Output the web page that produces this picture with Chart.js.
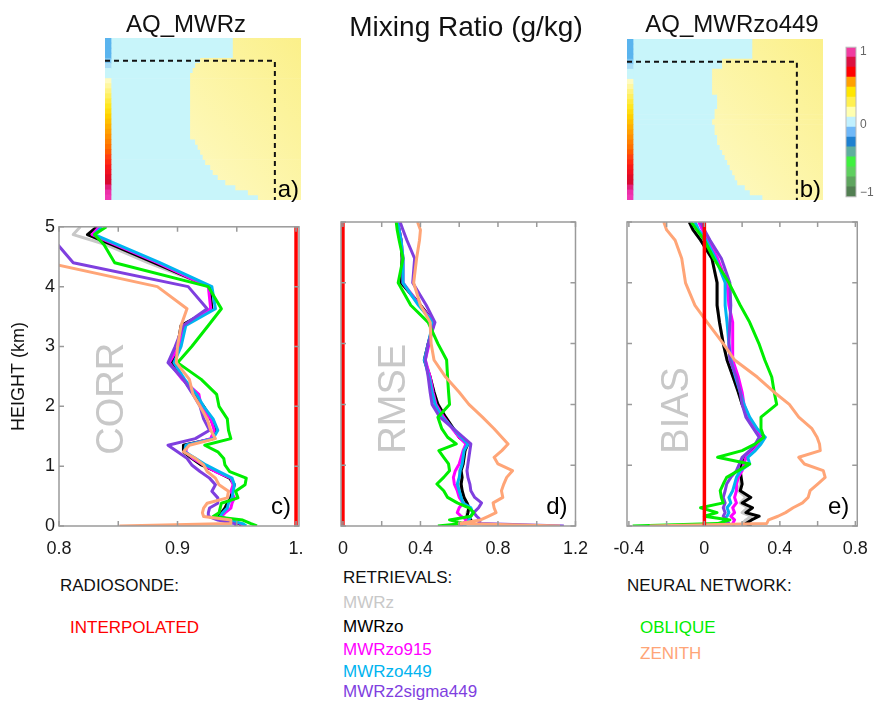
<!DOCTYPE html>
<html>
<head>
<meta charset="utf-8">
<script src="https://cdn.jsdelivr.net/npm/chart.js@4.4.1/dist/chart.umd.min.js"></script>
<style>
  body { margin: 0; background: #fff; }
  #fig { position: relative; width: 880px; height: 704px; overflow: hidden; background: #fff;
         font-family: 'Liberation Sans', Arial, sans-serif; }
  canvas { position: absolute; }
  .txt { position: absolute; white-space: nowrap; line-height: 1; color: #111; }
</style>
</head>
<body>
<div id="fig">
  <canvas id="mapA" width="210" height="180" style="left:100px;top:30px"></canvas>
  <canvas id="mapB" width="210" height="180" style="left:620px;top:30px"></canvas>
  <canvas id="cbar" width="40" height="172" style="left:840px;top:36px"></canvas>
  <canvas id="corr" width="320" height="345" style="left:0px;top:212px"></canvas>
  <canvas id="rmse" width="280" height="345" style="left:320px;top:212px"></canvas>
  <canvas id="bias" width="280" height="345" style="left:600px;top:212px"></canvas>

  <div class="txt" style="left:186px;top:12px;font-size:24px;transform:translateX(-50%)">AQ_MWRz</div>
  <div class="txt" style="left:466px;top:13px;font-size:28px;transform:translateX(-50%)">Mixing Ratio (g/kg)</div>
  <div class="txt" style="left:732px;top:12px;font-size:24px;transform:translateX(-50%)">AQ_MWRzo449</div>

  <div class="txt" style="left:60px;top:577px;font-size:17px">RADIOSONDE:</div>
  <div class="txt" style="left:70px;top:619px;font-size:17px;color:#ff0000">INTERPOLATED</div>
  <div class="txt" style="left:343px;top:569px;font-size:17px">RETRIEVALS:</div>
  <div class="txt" style="left:343px;top:594px;font-size:17px;color:#c8c8c8">MWRz</div>
  <div class="txt" style="left:343px;top:618px;font-size:17px;color:#000">MWRzo</div>
  <div class="txt" style="left:343px;top:641px;font-size:17px;color:#ff00ff">MWRzo915</div>
  <div class="txt" style="left:343px;top:663px;font-size:17px;color:#00b4f0">MWRzo449</div>
  <div class="txt" style="left:343px;top:683px;font-size:17px;color:#7f3fdf">MWRz2sigma449</div>
  <div class="txt" style="left:627px;top:577px;font-size:17px">NEURAL NETWORK:</div>
  <div class="txt" style="left:640px;top:619px;font-size:17px;color:#00ee00">OBLIQUE</div>
  <div class="txt" style="left:640px;top:645px;font-size:17px;color:#ffa577">ZENITH</div>
</div>
<script>
// heights (km) shared by all profiles
const H = [0, 0.04, 0.1, 0.16, 0.22, 0.3, 0.38, 0.47, 0.58, 0.69, 0.8, 0.91, 1.02, 1.13, 1.24, 1.35,
  1.46, 1.6, 1.79, 2.0, 2.2, 2.45, 2.73, 3.0, 3.35, 3.63, 4.0, 4.4, 4.7, 4.87, 5.0];
const interpH = [0, 5];

// CORR
const corrInterp = [1, 1];
const corrMWRz = [0.955,0.952,0.94,0.935,0.937,0.94,0.942,0.945,0.946,0.947,0.944,0.933,0.921,0.913,0.906,0.906,0.93,0.932,0.928,0.922,0.915,0.905,0.896,0.90,0.903,0.929,0.927,0.875,0.84,0.812,0.818];
const corrMWRzo = [0.955,0.952,0.94,0.935,0.937,0.94,0.942,0.945,0.946,0.948,0.944,0.933,0.92,0.912,0.905,0.905,0.93,0.932,0.928,0.922,0.914,0.905,0.895,0.90,0.903,0.929,0.927,0.88,0.845,0.824,0.832];
const corrMWRzo915 = [0.956,0.953,0.944,0.937,0.94,0.945,0.946,0.948,0.945,0.947,0.945,0.932,0.922,0.913,0.907,0.908,0.928,0.931,0.928,0.92,0.918,0.904,0.893,0.901,0.905,0.928,0.926,0.883,0.848,0.828,0.834];
const corrMWRzo449 = [0.958,0.955,0.942,0.936,0.938,0.942,0.943,0.946,0.947,0.948,0.946,0.935,0.924,0.915,0.906,0.907,0.93,0.934,0.93,0.922,0.916,0.906,0.897,0.903,0.907,0.932,0.929,0.885,0.85,0.83,0.836];
const corrMWRz2sigma449 = [0.95,0.948,0.934,0.926,0.926,0.927,0.934,0.934,0.929,0.932,0.927,0.919,0.912,0.908,0.90,0.892,0.915,0.927,0.922,0.919,0.913,0.905,0.892,0.898,0.905,0.925,0.909,0.812,0.799,0.79,0.785];
const corrOblique = [0.967,0.962,0.955,0.93,0.935,0.936,0.937,0.951,0.949,0.957,0.958,0.944,0.94,0.939,0.934,0.923,0.945,0.943,0.942,0.935,0.933,0.92,0.90,0.912,0.926,0.937,0.926,0.847,0.838,0.83,0.84];
const corrZenith = [0.851,0.945,0.945,0.922,0.921,0.922,0.925,0.942,0.943,0.935,0.932,0.925,0.922,0.915,0.905,0.91,0.932,0.928,0.925,0.919,0.913,0.91,0.899,0.90,0.903,0.908,0.883,0.79,0.77,0.76,0.75];

// RMSE
const rmseInterp = [0, 0];
const rmseMWRz = [0.60,0.62,0.66,0.64,0.64,0.65,0.64,0.62,0.615,0.60,0.61,0.60,0.62,0.625,0.63,0.64,0.60,0.57,0.53,0.49,0.47,0.45,0.42,0.44,0.47,0.40,0.31,0.31,0.30,0.29,0.28];
const rmseMWRzo = [0.60,0.62,0.66,0.64,0.645,0.65,0.64,0.625,0.615,0.61,0.615,0.61,0.62,0.625,0.63,0.645,0.60,0.57,0.53,0.49,0.47,0.45,0.42,0.44,0.47,0.40,0.30,0.305,0.30,0.29,0.28];
const rmseMWRzo915 = [0.60,0.62,0.64,0.61,0.59,0.60,0.62,0.60,0.59,0.575,0.57,0.58,0.60,0.61,0.62,0.635,0.60,0.565,0.52,0.48,0.465,0.45,0.425,0.445,0.47,0.395,0.31,0.31,0.30,0.29,0.28];
const rmseMWRzo449 = [0.62,0.64,0.65,0.66,0.67,0.66,0.62,0.61,0.60,0.59,0.60,0.605,0.615,0.62,0.625,0.645,0.61,0.57,0.51,0.475,0.46,0.445,0.42,0.44,0.465,0.39,0.31,0.31,0.30,0.29,0.285];
const rmseMWRz2sigma449 = [1.14,0.70,0.71,0.69,0.675,0.70,0.715,0.68,0.66,0.655,0.645,0.64,0.645,0.65,0.655,0.66,0.62,0.57,0.50,0.46,0.45,0.44,0.425,0.44,0.475,0.43,0.36,0.37,0.33,0.31,0.295];
const rmseOblique = [0.49,0.62,0.55,0.66,0.675,0.65,0.59,0.54,0.52,0.485,0.52,0.55,0.545,0.52,0.495,0.585,0.54,0.51,0.49,0.55,0.545,0.54,0.535,0.49,0.44,0.35,0.285,0.31,0.29,0.28,0.275];
const rmseZenith = [1.12,0.60,0.71,0.75,0.79,0.78,0.775,0.825,0.818,0.83,0.845,0.875,0.80,0.78,0.82,0.852,0.82,0.78,0.72,0.65,0.60,0.53,0.47,0.455,0.45,0.40,0.365,0.38,0.395,0.40,0.385];

// BIAS
const biasInterp = [0, 0];
const biasMWRz = [0.22,0.2,0.22,0.25,0.2,0.23,0.19,0.22,0.18,0.19,0.19,0.19,0.2,0.22,0.25,0.28,0.305,0.27,0.23,0.2,0.18,0.152,0.12,0.10,0.08,0.07,0.07,0.04,-0.02,-0.06,-0.08];
const biasMWRzo = [0.25,0.22,0.25,0.29,0.22,0.255,0.20,0.246,0.19,0.20,0.195,0.19,0.20,0.22,0.25,0.28,0.306,0.27,0.23,0.20,0.18,0.152,0.12,0.10,0.08,0.067,0.067,0.04,-0.02,-0.06,-0.08];
const biasMWRzo915 = [0.16,0.15,0.16,0.14,0.16,0.15,0.17,0.16,0.17,0.17,0.18,0.20,0.21,0.22,0.26,0.29,0.30,0.27,0.235,0.21,0.20,0.18,0.15,0.15,0.15,0.13,0.12,0.07,0.02,-0.01,-0.03];
const biasMWRzo449 = [0.13,0.12,0.10,0.12,0.13,0.12,0.14,0.13,0.15,0.16,0.17,0.19,0.24,0.23,0.27,0.30,0.323,0.28,0.24,0.21,0.19,0.165,0.14,0.13,0.12,0.11,0.11,0.06,0.01,-0.03,-0.05];
const biasMWRz2sigma449 = [0.12,0.13,0.12,0.10,0.11,0.10,0.11,0.10,0.11,0.118,0.14,0.17,0.185,0.20,0.24,0.27,0.29,0.26,0.22,0.20,0.19,0.17,0.135,0.13,0.135,0.14,0.135,0.09,0.03,0.0,-0.02];
const biasOblique = [-0.38,0.07,0.135,0.0,0.067,-0.02,0.10,0.09,0.084,0.10,0.118,0.18,0.24,0.07,0.20,0.27,0.315,0.30,0.30,0.383,0.37,0.357,0.32,0.289,0.24,0.19,0.13,0.05,0.0,-0.04,-0.07];
const biasZenith = [-0.29,0.33,0.34,0.39,0.43,0.47,0.52,0.55,0.56,0.60,0.64,0.63,0.53,0.50,0.614,0.61,0.597,0.57,0.50,0.45,0.37,0.28,0.16,0.10,0.015,-0.05,-0.10,-0.12,-0.155,-0.2,-0.215];

// axis ticks
const yTicks = [0, 1, 2, 3, 4, 5];
const yLabels = ['0', '1', '2', '3', '4', '5'];
const corrTicks = [0.8, 0.85, 0.9, 0.95, 1.0];
const corrLabels = ['0.8', '', '0.9', '', '1.'];
const rmseTicks = [0, 0.2, 0.4, 0.6, 0.8, 1.0, 1.2];
const rmseLabels = ['0', '', '0.4', '', '0.8', '', '1.2'];
const biasTicks = [-0.4, -0.2, 0, 0.2, 0.4, 0.6, 0.8];
const biasLabels = ['-0.4', '', '0', '', '0.4', '', '0.8'];

// top maps: column where yellow starts, per row (top to bottom)
const mapCols = 39;
const edgeA = [25.5,25.5,25.5,25.5,19,18,17.5,17,17,17,17,17,17,17,17,17,17,17,17,17,18,18.5,19,19.5,20,21,21.5,22.5,24,26,28.5,30.5];
const edgeB = [25,25,25,25,19,19,17,17,17,17,17,18,18,18,17.5,17.5,17,17.5,17.5,18,18,18.5,19,19.5,20,20.5,21,21.5,22,23.5,24.5,27];
const stripColors = ['#5ab4ee','#5ab4ee','#5ab4ee','#5ab4ee','#7cc6f2','#a8dcf6','#c8f5fa','#c8f5fa',
  '#fffbc0','#fff7a0','#fff380','#ffef60','#ffea40','#ffe620','#ffdc10','#ffd000','#ffc000','#ffb000',
  '#ffa000','#ff9000','#ff8000','#ff7000','#ff5a00','#ff4010','#ff2a10','#f81818','#f01020','#e00a28',
  '#d80a30','#e0207a','#ec30a8','#f038b4'];
// colour bar, bottom to top
const cbarColors = ['#527f52','#5fa55f','#5fcf5f','#3ff03f','#5fae9e','#1f80d0','#70b8f8','#c0f0ff',
  '#ffffb0','#fff050','#ffe600','#ffa000','#ff0000','#dc1040','#f03ca0'];
const cbarTicks = [0.4, 7.25, 14.5];
const cbarLabels = ['\u22121', '0', '1'];

const FONT = "'Liberation Sans', Arial, sans-serif";
Chart.defaults.font.family = FONT;
Chart.defaults.animation = false;
Chart.defaults.responsive = false;
Chart.defaults.plugins.legend.display = false;
Chart.defaults.plugins.tooltip.enabled = false;
Chart.defaults.events = [];

const framePlugin = {
  id: 'frame',
  afterDatasetsDraw(chart, args, o) {
    const { ctx, chartArea: a, scales } = chart;
    ctx.save();
    ctx.strokeStyle = o.color;
    ctx.lineWidth = o.width;
    ctx.strokeRect(a.left, a.top, a.right - a.left, a.bottom - a.top);
    if (o.len) {
      ctx.beginPath();
      scales.x.ticks.forEach(t => {
        const p = scales.x.getPixelForValue(t.value);
        ctx.moveTo(p, a.bottom); ctx.lineTo(p, a.bottom - o.len);
        ctx.moveTo(p, a.top); ctx.lineTo(p, a.top + o.len);
      });
      scales.y.ticks.forEach(t => {
        const p = scales.y.getPixelForValue(t.value);
        ctx.moveTo(a.left, p); ctx.lineTo(a.left + o.len, p);
        ctx.moveTo(a.right, p); ctx.lineTo(a.right - o.len, p);
      });
      ctx.stroke();
    }
    ctx.restore();
  }
};

const markPlugin = {
  id: 'marks',
  beforeDatasetsDraw(chart, args, o) {
    if (!o.wm) return;
    const { ctx, scales } = chart;
    ctx.save();
    ctx.translate(scales.x.getPixelForValue(o.wmX), scales.y.getPixelForValue(o.wmY));
    ctx.rotate(-Math.PI / 2);
    ctx.font = '38px ' + FONT;
    ctx.fillStyle = '#c8c8c8';
    ctx.textAlign = 'left';
    ctx.textBaseline = 'middle';
    ctx.fillText(o.wm, 0, 0);
    ctx.restore();
  },
  afterDatasetsDraw(chart, args, o) {
    const { ctx, chartArea: a, scales } = chart;
    ctx.save();
    if (o.dash) {
      const x = scales.x.getPixelForValue(o.dash[0]);
      const y = scales.y.getPixelForValue(o.dash[1]);
      ctx.strokeStyle = '#111';
      ctx.lineWidth = 2;
      ctx.setLineDash([5, 4]);
      ctx.beginPath();
      ctx.moveTo(a.left, y); ctx.lineTo(x, y); ctx.lineTo(x, a.bottom);
      ctx.stroke();
      ctx.setLineDash([]);
    }
    if (o.letter) {
      ctx.font = '24px ' + FONT;
      ctx.fillStyle = '#000';
      ctx.textAlign = 'right';
      ctx.textBaseline = 'alphabetic';
      ctx.fillText(o.letter, a.right - o.lx, a.bottom - o.ly);
    }
    ctx.restore();
  }
};

function profile(x, y, color, order, width) {
  return {
    data: x.map((v, i) => ({ x: v, y: y[i] })),
    showLine: true, borderColor: color, backgroundColor: color,
    borderWidth: width || 3, pointRadius: 0, order: order,
    borderJoinStyle: 'round', tension: 0
  };
}

function panel(id, c) {
  new Chart(document.getElementById(id), {
    type: 'scatter',
    data: { datasets: c.datasets },
    options: {
      devicePixelRatio: 1,
      layout: { padding: c.pad },
      scales: {
        x: {
          type: 'linear', min: c.min, max: c.max,
          grid: { display: false, drawTicks: false }, border: { display: false },
          afterBuildTicks: s => { s.ticks = c.ticks.map(v => ({ value: v })); },
          afterFit: s => { s.height = 31; },
          ticks: { padding: 12, color: '#1a1a1a', font: { size: 18 }, autoSkip: false, maxRotation: 0,
                   callback: (v, i) => c.labels[i] }
        },
        y: {
          type: 'linear', min: 0, max: 5,
          grid: { display: false, drawTicks: false }, border: { display: false },
          afterBuildTicks: s => { s.ticks = yTicks.map(v => ({ value: v })); },
          afterFit: s => { s.width = c.yw; },
          ticks: { display: !!c.showY, padding: 4, color: '#1a1a1a', font: { size: 18 },
                   callback: (v, i) => yLabels[i] },
          title: { display: !!c.showY, text: 'HEIGHT (km)', color: '#111', font: { size: 18 },
                   padding: { top: 8, bottom: 0 } }
        }
      },
      plugins: {
        frame: { color: '#9a9a9a', width: 1.5, len: 5 },
        marks: { wm: c.wm, wmX: c.wmX, wmY: 1.19, letter: c.letter, lx: 8, ly: 12 }
      }
    },
    plugins: [framePlugin, markPlugin]
  });
}

function seriesFor(interp, mz, mzo, m915, m449, m2s, obl, zen) {
  return [
    profile(interp, interpH, '#ff0000', 0, 3.5),
    profile(zen, H, '#ffa577', 1),
    profile(obl, H, '#00ee00', 2),
    profile(m2s, H, '#7f3fdf', 3),
    profile(m449, H, '#00b4f0', 4),
    profile(m915, H, '#ff00ff', 5),
    profile(mzo, H, '#000000', 6),
    profile(mz, H, '#c8c8c8', 7)
  ];
}

panel('corr', {
  datasets: seriesFor(corrInterp, corrMWRz, corrMWRzo, corrMWRzo915, corrMWRzo449, corrMWRz2sigma449, corrOblique, corrZenith),
  min: 0.8, max: 1.0025, ticks: corrTicks, labels: corrLabels,
  pad: { left: 0, top: 10, right: 21, bottom: 0 }, yw: 59, showY: true,
  wm: 'CORR', wmX: 0.845, letter: 'c)'
});
panel('rmse', {
  datasets: seriesFor(rmseInterp, rmseMWRz, rmseMWRzo, rmseMWRzo915, rmseMWRzo449, rmseMWRz2sigma449, rmseOblique, rmseZenith),
  min: -0.01, max: 1.2, ticks: rmseTicks, labels: rmseLabels,
  pad: { left: 0, top: 10, right: 17, bottom: 0 }, yw: 21,
  wm: 'RMSE', wmX: 0.265, letter: 'd)'
});
panel('bias', {
  datasets: seriesFor(biasInterp, biasMWRz, biasMWRzo, biasMWRzo915, biasMWRzo449, biasMWRz2sigma449, biasOblique, biasZenith),
  min: -0.41, max: 0.81, ticks: biasTicks, labels: biasLabels,
  pad: { left: 0, top: 10, right: 15, bottom: 0 }, yw: 27,
  wm: 'BIAS', wmX: -0.14, letter: 'e)'
});

// top maps
function yellowFill(ctx) {
  const a = ctx.chart.chartArea;
  if (!a) return '#fdf7ae';
  const g = ctx.chart.ctx.createLinearGradient(a.left, a.bottom, a.right, a.top);
  g.addColorStop(0, '#fffdd6');
  g.addColorStop(1, '#fbf08a');
  return g;
}

function map(id, edge, pad, letter) {
  const rows = edge.map((_, i) => i);
  new Chart(document.getElementById(id), {
    type: 'bar',
    data: {
      labels: rows,
      datasets: [
        { data: rows.map(() => [0, 1.2]), backgroundColor: stripColors, order: 0 },
        { data: edge.map(e => [e, mapCols]), backgroundColor: yellowFill, order: 1 },
        { data: edge.map(e => [0, e]), backgroundColor: '#c8f5fa', order: 2 }
      ].map(d => Object.assign(d, { grouped: false, barPercentage: 1, categoryPercentage: 1, borderWidth: 0 }))
    },
    options: {
      devicePixelRatio: 1,
      indexAxis: 'y',
      layout: { padding: pad },
      scales: {
        x: { type: 'linear', min: 0, max: mapCols, display: false },
        y: { display: false }
      },
      plugins: { marks: { dash: [33.8, 4], letter: letter, lx: 2, ly: 3 } }
    },
    plugins: [markPlugin]
  });
}
map('mapA', edgeA, { left: 5, top: 8, right: 9, bottom: 10 }, 'a)');
map('mapB', edgeB, { left: 7, top: 9, right: 7, bottom: 10 }, 'b)');

// colour bar
new Chart(document.getElementById('cbar'), {
  type: 'bar',
  data: {
    labels: [''],
    datasets: cbarColors.map(col => ({ data: [1], backgroundColor: col, borderWidth: 0,
      barPercentage: 1, categoryPercentage: 1 }))
  },
  options: {
    devicePixelRatio: 1,
    layout: { padding: { left: 6, top: 7, right: 0, bottom: 8 } },
    scales: {
      x: { stacked: true, display: false },
      y: {
        stacked: true, position: 'right', min: 0, max: cbarColors.length,
        grid: { display: false, drawTicks: false }, border: { display: false },
        afterBuildTicks: s => { s.ticks = cbarTicks.map(v => ({ value: v })); },
        afterFit: s => { s.width = 24; },
        ticks: { padding: 4, color: '#666', font: { size: 12 }, callback: (v, i) => cbarLabels[i] }
      }
    },
    plugins: { frame: { color: '#bbb', width: 1, len: 0 } }
  },
  plugins: [framePlugin]
});
</script>
</body>
</html>
